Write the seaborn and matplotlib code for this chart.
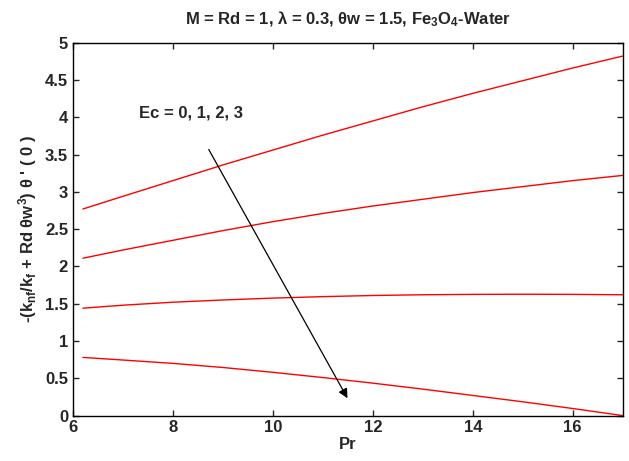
"""
Nusselt-type curves vs Pr for several Ec values
"""
import matplotlib
matplotlib.use('Agg')
import matplotlib.pyplot as plt
import seaborn as sns
import numpy as np
import pandas as pd

pr = [6.2, 7, 8, 9, 10, 11, 12, 13, 14, 15, 16, 17]
ec0 = [2.77, 2.94, 3.15, 3.36, 3.56, 3.76, 3.95, 4.14, 4.32, 4.49, 4.66, 4.82]
ec1 = [2.11, 2.22, 2.35, 2.48, 2.60, 2.71, 2.81, 2.90, 2.99, 3.07, 3.15, 3.22]
ec2 = [1.44, 1.48, 1.52, 1.55, 1.575, 1.595, 1.61, 1.62, 1.625, 1.627, 1.625, 1.62]
ec3 = [0.78, 0.745, 0.70, 0.645, 0.58, 0.51, 0.435, 0.355, 0.27, 0.185, 0.095, 0.00]
ec_labels = ['0', '1', '2', '3']

rows = []
for lab, vals in zip(ec_labels, [ec0, ec1, ec2, ec3]):
    for p, v in zip(pr, vals):
        rows.append({'Pr': p, 'val': v, 'Ec': lab})
df = pd.DataFrame(rows)

sns.set_style('white')
plt.rcParams['font.family'] = ['Liberation Sans', 'DejaVu Sans']
plt.rcParams['font.weight'] = 'bold'
plt.rcParams['axes.labelweight'] = 'bold'
plt.rcParams['axes.titleweight'] = 'bold'
plt.rcParams['mathtext.fontset'] = 'custom'
plt.rcParams['mathtext.rm'] = 'Liberation Sans:bold'
plt.rcParams['mathtext.it'] = 'Liberation Sans:bold'
plt.rcParams['mathtext.bf'] = 'Liberation Sans:bold'

fig = plt.figure(figsize=(6.29, 4.61), dpi=100)
ax = fig.add_axes([0.116, 0.0985, 0.874, 0.809])

sns.lineplot(data=df, x='Pr', y='val', hue='Ec', palette=['red'] * 4,
             linewidth=1.0, legend=False, ax=ax)

ax.set_xlim(6, 17)
ax.set_ylim(0, 5)
ax.set_xticks([6, 8, 10, 12, 14, 16])
ax.set_yticks(np.arange(0, 5.01, 0.5))
ax.set_yticklabels(['0', '0.5', '1', '1.5', '2', '2.5', '3', '3.5', '4', '4.5', '5'])
ax.tick_params(direction='in', length=4, labelsize=12, width=1,
               top=True, right=True, bottom=True, left=True)
for s in ax.spines.values():
    s.set_linewidth(1.0)
    s.set_color('black')

ax.set_xlabel('Pr', fontsize=12, labelpad=1)
ax.set_ylabel(r"-(k$_{nf}$/k$_f$ + Rd $\theta$w$^3$) $\theta$ ' ( 0 )", fontsize=12, labelpad=4)
ax.set_title(r'M = Rd = 1, $\lambda$ = 0.3, $\theta$w = 1.5, Fe$_3$O$_4$-Water',
             fontsize=12, fontweight='bold', pad=13)

ax.text(7.33, 4.06, 'Ec = 0, 1, 2, 3', fontsize=12, fontweight='bold', va='center')
ax.annotate('', xy=(11.52, 0.2), xytext=(8.69, 3.6),
            arrowprops=dict(arrowstyle='-|>', color='black', lw=0.9,
                            mutation_scale=14))

plt.savefig('out.png', dpi=100)
plt.close()
